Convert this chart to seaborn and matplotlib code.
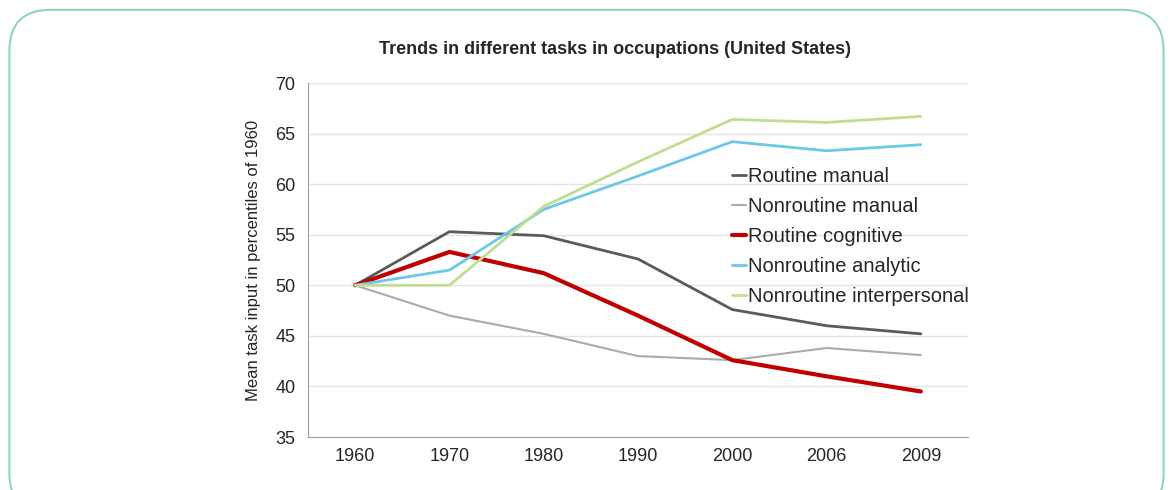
import matplotlib
matplotlib.use('Agg')
import matplotlib.pyplot as plt
from matplotlib.patches import FancyBboxPatch
import pandas as pd
import seaborn as sns

# data
years = ['1960', '1970', '1980', '1990', '2000', '2006', '2009']
routine_manual = [50, 55.3, 54.9, 52.6, 47.6, 46.0, 45.2]
nonroutine_manual = [50, 47.0, 45.2, 43.0, 42.6, 43.8, 43.1]
routine_cognitive = [50, 53.3, 51.2, 47.0, 42.6, 41.0, 39.5]
nonroutine_analytic = [50, 51.5, 57.5, 60.8, 64.2, 63.3, 63.9]
nonroutine_interpersonal = [50, 50.0, 57.8, 62.2, 66.4, 66.1, 66.7]

series = {
    'Routine manual': routine_manual,
    'Nonroutine manual': nonroutine_manual,
    'Routine cognitive': routine_cognitive,
    'Nonroutine analytic': nonroutine_analytic,
    'Nonroutine interpersonal': nonroutine_interpersonal,
}
colors = ['#5a5a5a', '#ababab', '#c00000', '#6cc8e6', '#c2dd90']
widths = [2.0, 1.5, 3.0, 2.0, 2.0]

rows = []
for name, vals in series.items():
    for i, v in enumerate(vals):
        rows.append({'pos': i, 'value': v, 'task': name})
df = pd.DataFrame(rows)

sns.set_style('white')
plt.rcParams['font.family'] = ['Liberation Sans', 'DejaVu Sans']

fig = plt.figure(figsize=(11.73, 4.9), dpi=100)

# rounded frame around the whole chart
frame = FancyBboxPatch((0.008, -0.05), 0.984, 1.03, transform=fig.transFigure,
                       boxstyle='round,pad=0,rounding_size=0.035',
                       facecolor='none', edgecolor='#8fd3c8', linewidth=1.5,
                       mutation_aspect=1173 / 490, zorder=-5)
fig.patches.append(frame)

ax = fig.add_axes([308 / 1173, 1 - 437 / 490, (968 - 308) / 1173, (437 - 83) / 490])
ax.set_facecolor('none')

for (name, vals), c, w in zip(series.items(), colors, widths):
    sns.lineplot(data=df[df['task'] == name], x='pos', y='value', color=c,
                 linewidth=w, label=name, ax=ax)

ax.set_xlim(-0.5, len(years) - 0.5)
ax.set_ylim(35, 70)
ax.set_yticks(range(35, 71, 5))
ax.set_xticks(range(len(years)))
ax.set_xticklabels(years)
ax.set_xticks([i - 0.5 for i in range(len(years) + 1)], minor=True)
ax.tick_params(axis='x', which='major', length=0, labelsize=13, pad=8)
ax.tick_params(axis='x', which='minor', length=5, color='#a0a0a0')
ax.tick_params(axis='y', length=5, color='#a0a0a0', labelsize=13, pad=4)
ax.grid(axis='y', color='#e4e4e4', linewidth=1)
ax.set_axisbelow(True)
for s in ['top', 'right']:
    ax.spines[s].set_visible(False)
ax.spines['left'].set_color('#a0a0a0')
ax.spines['bottom'].set_color('#a0a0a0')

ax.set_xlabel('')
ax.set_ylabel('Mean task input in percentiles of 1960', fontsize=12, labelpad=10)
fig.text(615 / 1173, 1 - 50 / 490, 'Trends in different tasks in occupations (United States)',
         ha='center', va='center', fontsize=13, fontweight='bold')

ax.legend(loc='upper left', bbox_to_anchor=(0.63, 0.785), frameon=False, fontsize=14.5,
          handlelength=0.7, handletextpad=0.1, labelspacing=0.55, borderaxespad=0)

fig.savefig('out.png', dpi=100)
